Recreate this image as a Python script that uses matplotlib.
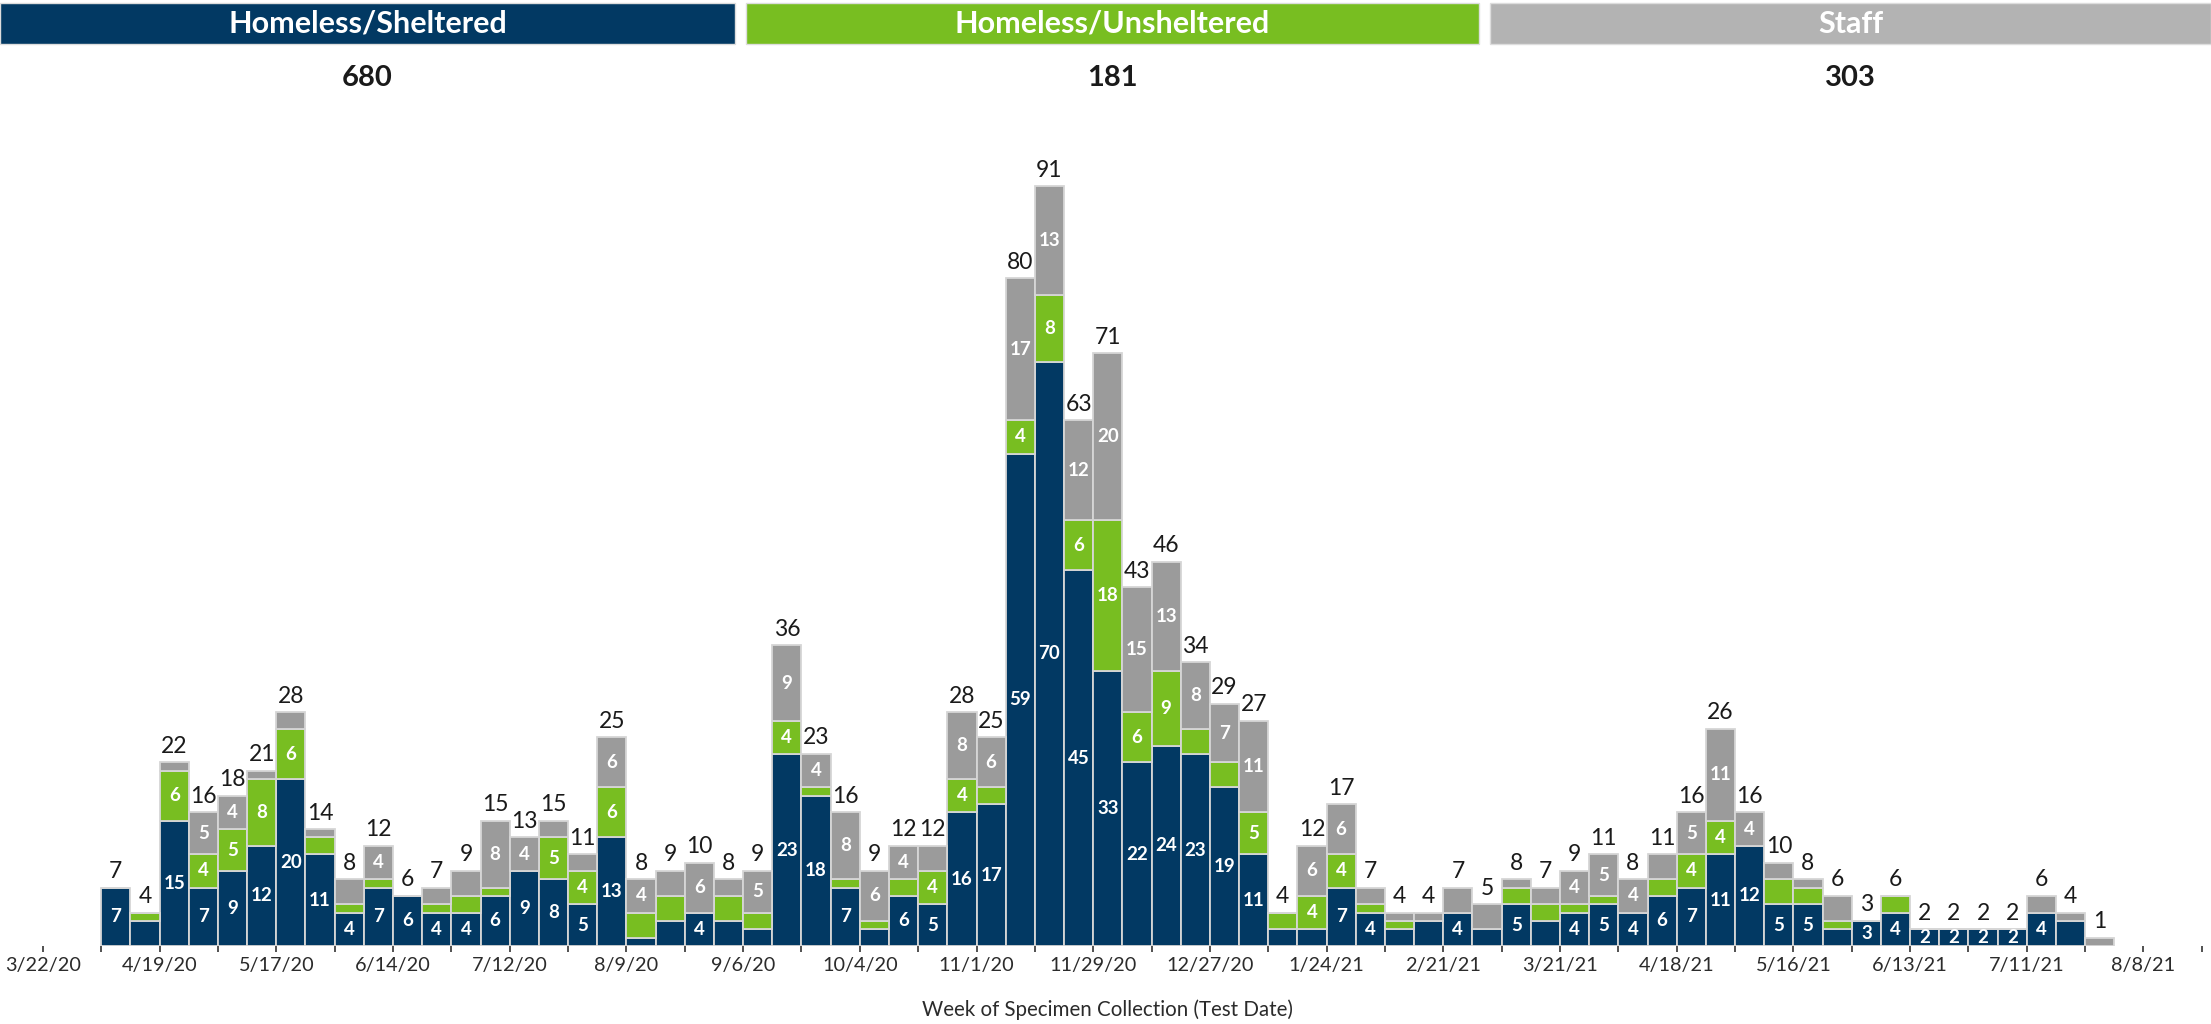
import matplotlib
matplotlib.use("Agg")
import matplotlib.pyplot as plt
import matplotlib.dates as mdates
from matplotlib.patches import Rectangle
import numpy as np
import pandas as pd

plt.rcParams['font.family'] = ['Lato', 'DejaVu Sans']

# ---------------- data ----------------
first_week = '2020-04-05'          # week of the first bar
sheltered = [7, 3, 15, 7, 9, 12, 20, 11, 4, 7,
             6, 4, 4, 6, 9, 8, 5, 13, 1, 3, 4, 3, 2,
             23, 18, 7, 2, 6, 5, 16, 17,
             59, 70, 45, 33, 22, 24, 23, 19, 11,
             2, 2, 7, 4, 2, 3, 4, 2, 5,
             3, 4, 5, 4, 6, 7, 11, 12, 5, 5, 2, 3, 4,
             2, 2, 2, 2, 4, 3, 0]
unsheltered = [0, 1, 6, 4, 5, 8, 6, 2, 1, 1,
               0, 1, 2, 1, 0, 5, 4, 6, 3, 3, 0, 3, 2,
               4, 1, 1, 1, 2, 4, 4, 2,
               4, 8, 6, 18, 6, 9, 3, 3, 5,
               2, 4, 4, 1, 1, 0, 0, 0, 2,
               2, 1, 1, 0, 2, 4, 4, 0, 3, 2, 1, 0, 2,
               0, 0, 0, 0, 0, 0, 0]
staff = [0, 0, 1, 5, 4, 1, 2, 1, 3, 4,
         0, 2, 3, 8, 4, 2, 2, 6, 4, 3, 6, 2, 5,
         9, 4, 8, 6, 4, 3, 8, 6,
         17, 13, 12, 20, 15, 13, 8, 7, 11,
         0, 6, 6, 2, 1, 1, 3, 3, 1,
         2, 4, 5, 4, 3, 5, 11, 4, 2, 1, 3, 0, 0,
         0, 0, 0, 0, 2, 1, 1]
groups = ['Homeless/Sheltered', 'Homeless/Unsheltered', 'Staff']
tick_first = '2020-03-22'
tick_last = '2021-08-22'

# ---------------- style ----------------
bar_colors = ['#023963', '#78BE21', '#9B9B9B']
head_colors = ['#023963', '#78BE21', '#B3B3B3']
edge_col = '#D6D6D6'
text_dark = '#1A1A1A'

W, H = 2211, 1024
fig = plt.figure(figsize=(W / 100, H / 100), dpi=100)
ax = fig.add_axes([0, 78 / H, 1, 793 / H])

weeks = pd.date_range(first_week, periods=len(sheltered), freq='7D')
x = mdates.date2num(weeks.to_pydatetime())
series = [np.array(sheltered), np.array(unsheltered), np.array(staff)]
totals = series[0] + series[1] + series[2]
nseg = sum((s > 0).astype(int) for s in series)

bottom = np.zeros(len(x))
for vals, col in zip(series, bar_colors):
    bars = ax.bar(x, vals, width=7, bottom=bottom, align='edge',
                  color=col, edgecolor=edge_col, linewidth=1.3, zorder=2)
    for rect, v, b, n in zip(bars, vals, bottom, nseg):
        if v >= 4 or (n == 1 and v >= 2):
            t = ax.text(rect.get_x() + rect.get_width() / 2, b + v / 2, str(v),
                        ha='center', va='center', color='white',
                        fontsize=13.5, fontweight='bold', zorder=3)
            t.set_clip_path(rect)
    bottom = bottom + vals

for xi, tot in zip(x, totals):
    ax.annotate(str(tot), (xi + 3.5, tot), xytext=(0, 4),
                textcoords='offset points', ha='center', va='bottom',
                fontsize=16.5, color=text_dark, zorder=4)

t0 = mdates.date2num(pd.Timestamp(tick_first).to_pydatetime())
ax.set_xlim(t0 - 10.3, t0 + 520.2)
ax.set_ylim(0, 95)

tick_dates = pd.date_range(tick_first, tick_last, freq='14D')
ax.set_xticks(mdates.date2num(tick_dates.to_pydatetime()))
ax.set_xticklabels([f"{d.month}/{d.day}/{d.strftime('%y')}" if i % 2 == 0 else ''
                    for i, d in enumerate(tick_dates)])
ax.tick_params(axis='x', length=4, width=1.2, color='#333333', pad=4,
               labelsize=14.3, labelcolor='#2B2B2B')
ax.set_yticks([])
for s in ax.spines.values():
    s.set_visible(False)
ax.patch.set_alpha(0)

fig.text(1107 / W, 1 - 1010 / H, 'Week of Specimen Collection (Test Date)',
         ha='center', va='center', fontsize=14.8, color='#2B2B2B')

# ---------------- header ----------------
box_edges = [(0, 735), (746, 1479), (1490, 2211)]
for (x0, x1), name, col, s in zip(box_edges, groups, head_colors, series):
    fig.add_artist(Rectangle((x0 / W, 1 - 44 / H), (x1 - x0) / W, 41 / H,
                             transform=fig.transFigure, facecolor=col,
                             edgecolor='#DDDDDD', linewidth=1))
    cx = (x0 + x1) / 2 / W
    fig.text(cx, 1 - 24 / H, name, ha='center', va='center', color='white',
             fontsize=22, fontweight='bold')
    fig.text(cx, 1 - 78 / H, str(int(s.sum())), ha='center', va='center',
             color=text_dark, fontsize=21, fontweight='bold')

fig.savefig('out.png', dpi=100)
